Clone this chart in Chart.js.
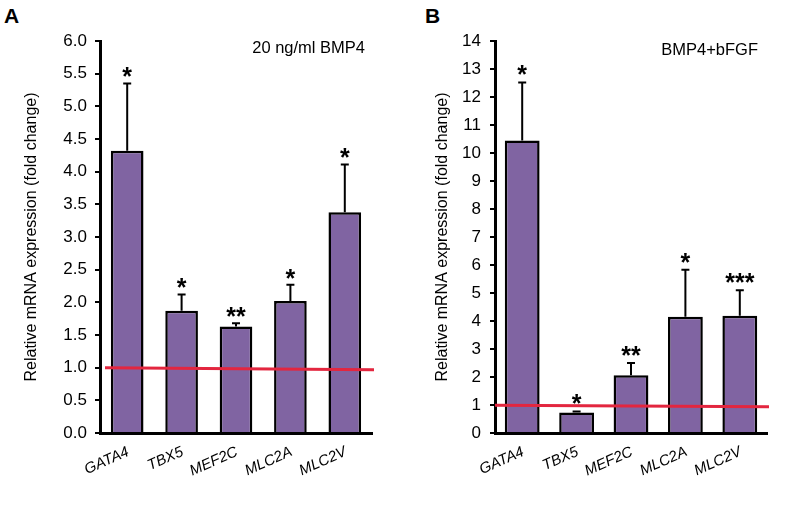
<!DOCTYPE html>
<html>
<head>
<meta charset="utf-8">
<script src="https://cdn.jsdelivr.net/npm/chart.js@4"></script>
<style>
  html, body { margin: 0; padding: 0; background: #fff; }
  body { width: 789px; height: 508px; position: relative; overflow: hidden; font-family: "Liberation Sans", Arial, sans-serif; }
  .panel { position: absolute; top: 0; height: 508px; }
  .letter { position: absolute; font-weight: bold; font-size: 21px; color: #000; }
</style>
</head>
<body>
<div class="letter" style="left:4px; top:4px;">A</div>
<div class="letter" style="left:425px; top:4px;">B</div>
<div class="panel" style="left:0; width:395px;"><canvas id="chartA" width="395" height="508"></canvas></div>
<div class="panel" style="left:400px; width:389px;"><canvas id="chartB" width="389" height="508"></canvas></div>
<script>
// ─── Data ─────────────────────────────────────────────────────────────────────
var genes = ['GATA4', 'TBX5', 'MEF2C', 'MLC2A', 'MLC2V'];

var bmp4Values = [4.32, 1.87, 1.63, 2.02, 3.38];
var bmp4ErrTop = [5.35, 2.12, 1.68, 2.27, 4.11];
var bmp4Stars  = ['*', '*', '**', '*', '*'];
var bmp4Ticks  = [0, 0.5, 1, 1.5, 2, 2.5, 3, 3.5, 4, 4.5, 5, 5.5, 6];

var fgfValues = [10.45, 0.73, 2.06, 4.15, 4.19];
var fgfErrTop = [12.52, 0.77, 2.5, 5.83, 5.1];
var fgfStars  = ['*', '*', '**', '*', '***'];
var fgfTicks  = [0, 1, 2, 3, 4, 5, 6, 7, 8, 9, 10, 11, 12, 13, 14];

// baseline (fold change = 1), left and right ends as drawn
var bmp4Baseline = [1.0, 0.97];
var fgfBaseline  = [0.99, 0.94];

var PURPLE = '#8064A2';
var RED = '#E3263F';
var FONT = '"Liberation Sans", Arial, sans-serif';

// ─── Plugin: error bars, stars, baseline, caption ─────────────────────────────
var extrasPlugin = {
    id: 'extras',
    afterDatasetsDraw(chart, args, opts) {
        const ctx = chart.ctx;
        const y = chart.scales.y;
        const meta = chart.getDatasetMeta(0);
        const area = chart.chartArea;
        ctx.save();

        // error bars (upper only)
        ctx.strokeStyle = '#000';
        ctx.lineWidth = 2;
        meta.data.forEach((bar, i) => {
            const top = y.getPixelForValue(opts.errTop[i]);
            ctx.beginPath();
            ctx.moveTo(bar.x, bar.y);
            ctx.lineTo(bar.x, top);
            ctx.moveTo(bar.x - 4, top);
            ctx.lineTo(bar.x + 4, top);
            ctx.stroke();

            // significance stars, centred a few px above the error cap
            ctx.font = 'bold 25px ' + FONT;
            ctx.fillStyle = '#000';
            ctx.textAlign = 'center';
            ctx.textBaseline = 'alphabetic';
            const m = ctx.measureText(opts.stars[i]);
            const cy = top - opts.starGap;
            const base = cy + (m.actualBoundingBoxAscent - m.actualBoundingBoxDescent) / 2;
            ctx.fillText(opts.stars[i], bar.x, base);
        });

        // red baseline at fold change 1
        ctx.strokeStyle = RED;
        ctx.lineWidth = 3;
        ctx.beginPath();
        ctx.moveTo(area.left + opts.lineInset, y.getPixelForValue(opts.baseline[0]));
        ctx.lineTo(area.right + 2, y.getPixelForValue(opts.baseline[1]));
        ctx.stroke();

        // condition caption
        ctx.font = '16.5px ' + FONT;
        ctx.fillStyle = '#000';
        ctx.textAlign = 'right';
        ctx.textBaseline = 'middle';
        ctx.fillText(opts.caption, opts.captionX, opts.captionY);
        ctx.restore();
    }
};

// ─── Chart builder ────────────────────────────────────────────────────────────
function makeChart(id, values, cfg) {
    return new Chart(document.getElementById(id), {
        type: 'bar',
        data: {
            labels: genes,
            datasets: [{
                data: values,
                backgroundColor: PURPLE,
                borderColor: '#000',
                borderWidth: 2.5,
                borderSkipped: 'bottom',
                categoryPercentage: 1,
                barPercentage: cfg.barPct
            }]
        },
        options: {
            responsive: false,
            animation: false,
            layout: { padding: { top: 41, right: cfg.padRight, left: 0, bottom: 0 } },
            plugins: {
                legend: { display: false },
                tooltip: { enabled: false },
                extras: cfg.extras
            },
            scales: {
                x: {
                    afterFit(s) { s.height = 75; },
                    border: { display: true, color: '#000', width: 3 },
                    grid: { display: false, drawTicks: false },
                    ticks: {
                        color: '#000',
                        autoSkip: false,
                        minRotation: 24,
                        maxRotation: 24,
                        padding: 10,
                        labelOffset: 1,
                        font: { family: FONT, size: 15, style: 'italic' }
                    }
                },
                y: {
                    min: cfg.min,
                    max: cfg.max,
                    afterFit(s) { s.width = cfg.yWidth; },
                    afterBuildTicks(s) { s.ticks = cfg.ticks.map(v => ({ value: v })); },
                    border: { display: true, color: '#000', width: 3 },
                    grid: { display: true, drawOnChartArea: false, drawTicks: true, tickLength: 5, color: '#000', lineWidth: 2 },
                    ticks: {
                        color: '#000',
                        padding: cfg.tickPad,
                        font: { family: FONT, size: 17 },
                        callback: cfg.fmt
                    },
                    title: {
                        display: true,
                        text: 'Relative mRNA expression (fold change)',
                        color: '#000',
                        padding: { top: cfg.titlePad, bottom: 0 },
                        font: { family: FONT, size: 16 }
                    }
                }
            }
        },
        plugins: [extrasPlugin]
    });
}

makeChart('chartA', bmp4Values, {
    min: 0, max: 6, ticks: bmp4Ticks, yWidth: 100, padRight: 23, tickPad: 8, titlePad: 22, barPct: 0.6,
    fmt: v => Number(v).toFixed(1),
    extras: { errTop: bmp4ErrTop, stars: bmp4Stars, starGap: 11, baseline: bmp4Baseline, lineInset: 5,
              caption: '20 ng/ml BMP4', captionX: 365, captionY: 48 }
});

makeChart('chartB', fgfValues, {
    min: 0, max: 14, ticks: fgfTicks, yWidth: 95, padRight: 22, tickPad: 9, titlePad: 33, barPct: 0.64,
    fmt: v => String(v),
    extras: { errTop: fgfErrTop, stars: fgfStars, starGap: 12, baseline: fgfBaseline, lineInset: 0,
              caption: 'BMP4+bFGF', captionX: 358, captionY: 50 }
});
</script>
</body>
</html>
